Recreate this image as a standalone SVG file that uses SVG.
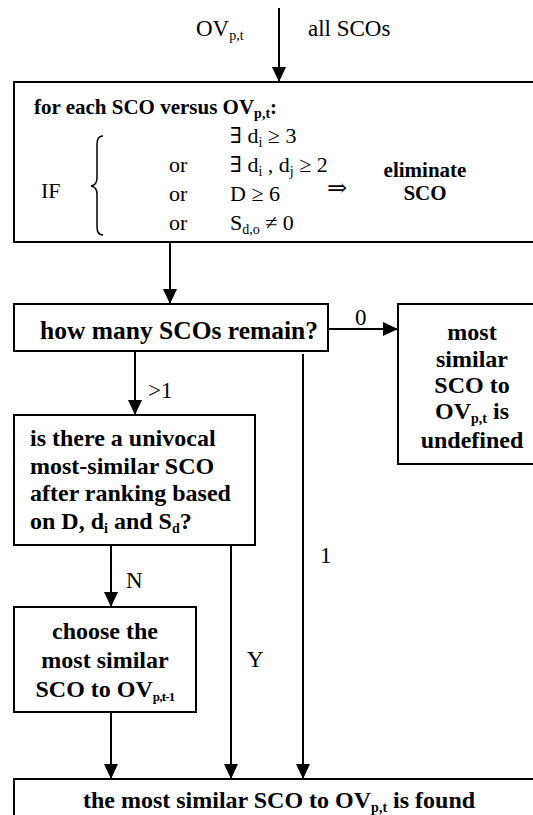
<svg xmlns="http://www.w3.org/2000/svg" width="533" height="815" viewBox="0 0 533 815">
  <style>
    .box { fill: #fff; stroke: #000; stroke-width: 2; }
    .line { fill: none; stroke: #000; stroke-width: 2; }
    .b { font-family: "Liberation Serif", "Times New Roman", serif; font-weight: bold; font-size: 24px; fill: #000; }
    .r { font-family: "Liberation Serif", "Times New Roman", serif; font-size: 23px; fill: #000; }
    .m { font-family: "Liberation Serif", "DejaVu Serif", serif; font-size: 22px; fill: #000; }
    .mid { text-anchor: middle; }
    .sub { font-size: 14px; }
  </style>
  <defs>
    <marker id="arrow" viewBox="0 0 15 14" refX="15" refY="7" markerWidth="15" markerHeight="14" markerUnits="userSpaceOnUse" orient="auto">
      <path d="M0,0 L15,7 L0,14 Z" fill="#000"/>
    </marker>
  </defs>

  <!-- connectors -->
  <g id="connectors">
    <line class="line" x1="279" y1="8" x2="279" y2="82" marker-end="url(#arrow)"/>
    <line class="line" x1="170" y1="242" x2="170" y2="304" marker-end="url(#arrow)"/>
    <line class="line" x1="328" y1="329" x2="398" y2="329" marker-end="url(#arrow)"/>
    <line class="line" x1="135" y1="351" x2="135" y2="415" marker-end="url(#arrow)"/>
    <line class="line" x1="303" y1="354" x2="303" y2="779" marker-end="url(#arrow)"/>
    <line class="line" x1="111" y1="545" x2="111" y2="607" marker-end="url(#arrow)"/>
    <line class="line" x1="231" y1="545" x2="231" y2="779" marker-end="url(#arrow)"/>
    <line class="line" x1="111" y1="712" x2="111" y2="779" marker-end="url(#arrow)"/>
    <!-- edge labels -->
    <text class="r" x="196" y="36">OV<tspan class="sub" dy="4">p,t</tspan></text>
    <text class="r" x="308" y="36">all SCOs</text>
    <text class="r" x="355" y="325">0</text>
    <text class="r" x="148" y="398">&gt;1</text>
    <text class="r" x="320" y="563">1</text>
    <text class="r" x="126" y="588">N</text>
    <text class="r" x="247" y="667">Y</text>
  </g>

  <!-- elimination rule -->
  <g id="filter">
    <rect class="box" x="14" y="82" width="540" height="160"/>
    <text class="b" x="34" y="114" style="font-size:21px">for each SCO versus OV<tspan class="sub" dy="4">p,t</tspan><tspan dy="-4">:</tspan></text>
    <text class="m" x="41" y="198">IF</text>
    <path class="line" style="stroke-width:1.5" d="M103,136 Q97,136 97,144 L97,178 Q97,185 91,186 Q97,187 97,194 L97,227 Q97,235 103,235"/>
    <text class="m" x="230" y="143">∃ d<tspan class="sub" dy="4">i</tspan><tspan dy="-4"> ≥ 3</tspan></text>
    <text class="m" x="169" y="172">or</text>
    <text class="m" x="230" y="172">∃ d<tspan class="sub" dy="4">i</tspan><tspan dy="-4"> , d</tspan><tspan class="sub" dy="4">j</tspan><tspan dy="-4"> ≥ 2</tspan></text>
    <text class="m" x="169" y="201">or</text>
    <text class="m" x="230" y="201">D ≥ 6</text>
    <text class="m" x="169" y="230">or</text>
    <text class="m" x="230" y="230">S<tspan class="sub" dy="4">d,o</tspan><tspan dy="-4"> ≠ 0</tspan></text>
    <text class="m" x="327" y="196" style="font-size:24px">⇒</text>
    <text class="b mid" x="425" y="177" style="font-size:21px">eliminate</text>
    <text class="b mid" x="425" y="200" style="font-size:21px">SCO</text>
  </g>

  <g id="count">
    <rect class="box" x="14" y="304" width="314" height="47"/>
    <text class="b mid" x="179" y="339" style="font-size:25.5px">how many SCOs remain?</text>
  </g>

  <g id="undefined">
    <rect class="box" x="398" y="304" width="200" height="160"/>
    <text class="b mid" x="472" y="340">most</text>
    <text class="b mid" x="472" y="367">similar</text>
    <text class="b mid" x="472" y="393">SCO to</text>
    <text class="b mid" x="472" y="419">OV<tspan class="sub" dy="4">p,t</tspan><tspan dy="-4"> is</tspan></text>
    <text class="b mid" x="472" y="448">undefined</text>
  </g>

  <g id="ranking">
    <rect class="box" x="14" y="415" width="241" height="130"/>
    <text class="b" x="30" y="446">is there a univocal</text>
    <text class="b" x="30" y="474">most-similar SCO</text>
    <text class="b" x="30" y="501">after ranking based</text>
    <text class="b" x="30" y="529">on D, d<tspan class="sub" dy="4">i</tspan><tspan dy="-4"> and S</tspan><tspan class="sub" dy="4">d</tspan><tspan dy="-4">?</tspan></text>
  </g>

  <g id="previous">
    <rect class="box" x="14" y="607" width="182" height="105"/>
    <text class="b mid" x="105" y="639">choose the</text>
    <text class="b mid" x="105" y="668">most similar</text>
    <text class="b mid" x="105" y="697">SCO to OV<tspan class="sub" dy="4" style="font-size:13px;letter-spacing:-0.8px">p,t-1</tspan></text>
  </g>

  <g id="found">
    <rect class="box" x="14" y="779" width="540" height="60"/>
    <text class="b mid" x="279" y="808">the most similar SCO to OV<tspan class="sub" dy="4">p,t</tspan><tspan dy="-4"> is found</tspan></text>
  </g>
</svg>
